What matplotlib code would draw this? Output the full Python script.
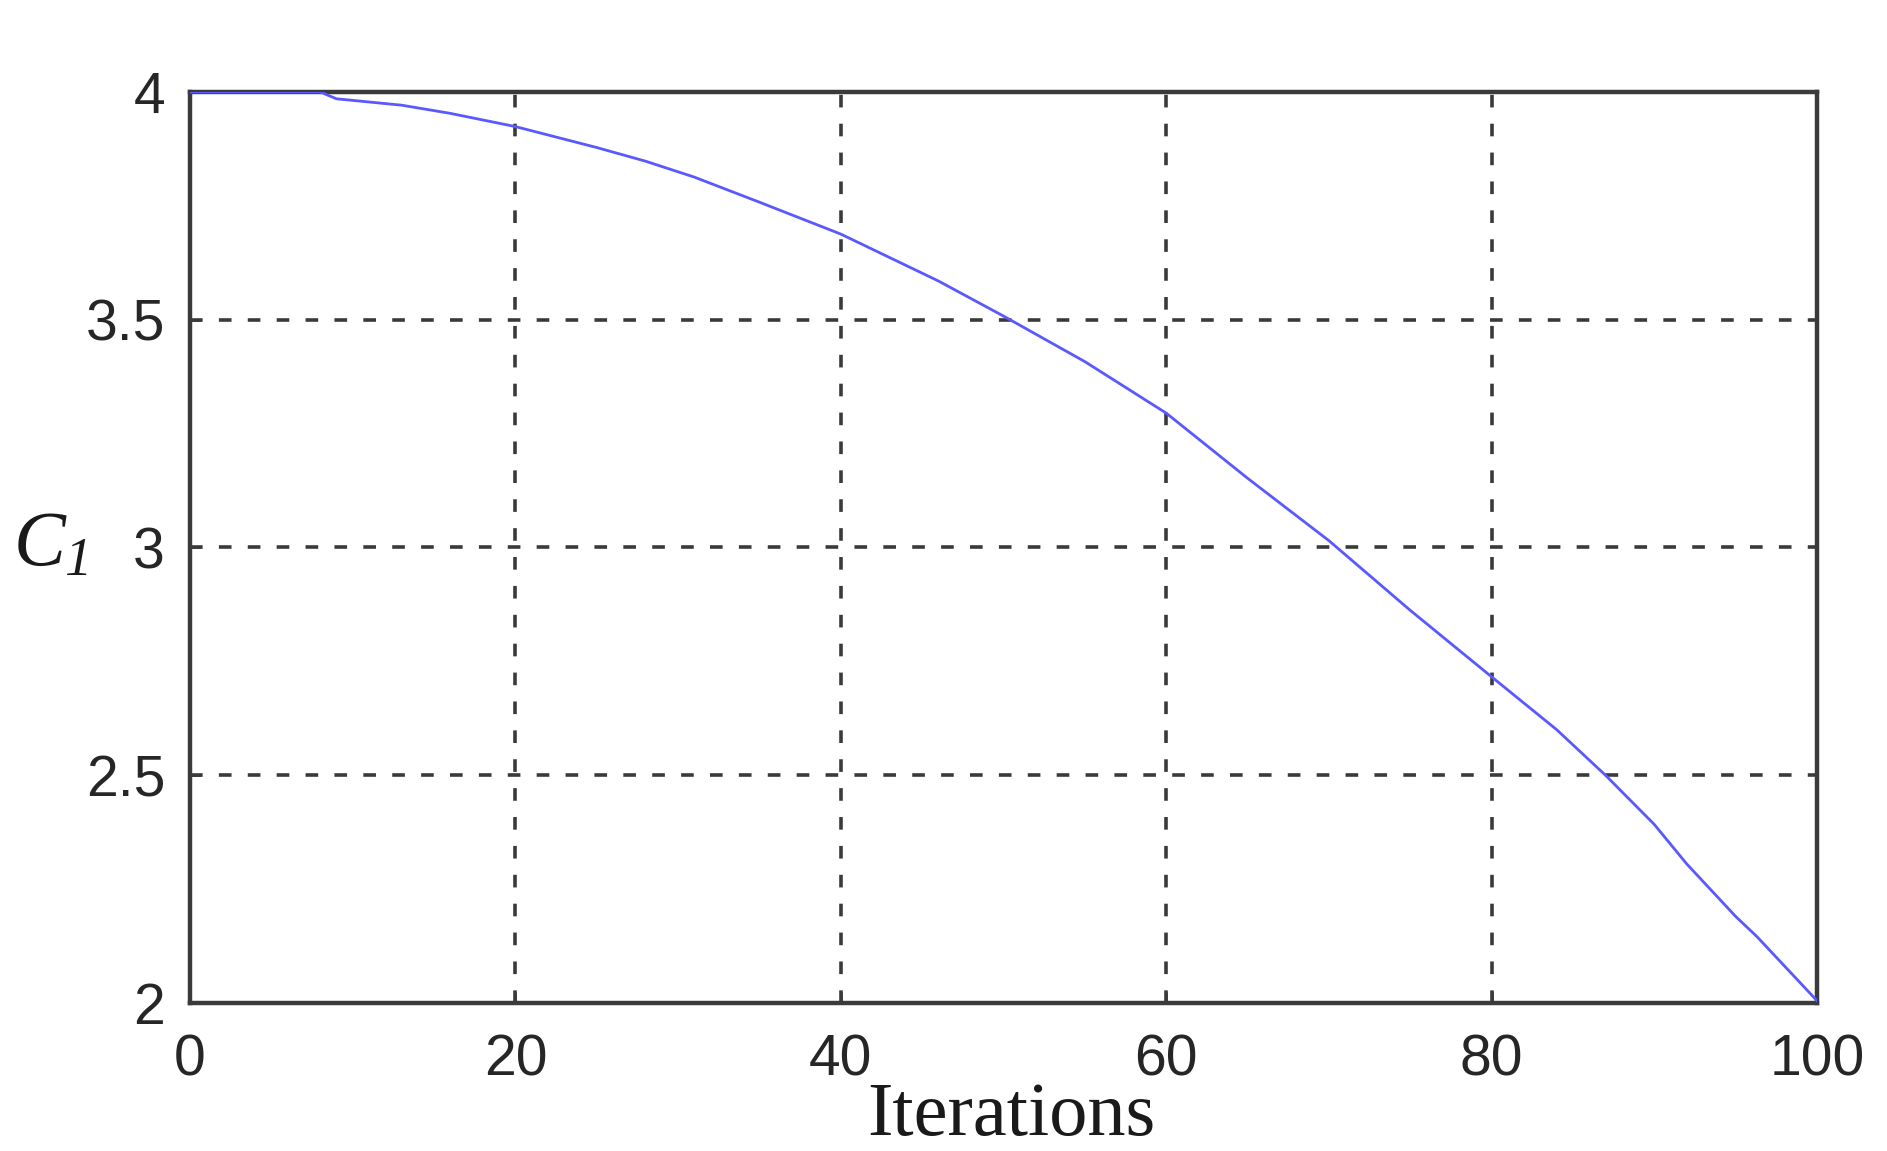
import matplotlib.pyplot as plt

# data
iterations = [0, 5, 8, 9, 13, 16, 20, 25, 28, 31, 35, 40, 46, 50, 55, 60, 65, 70,
              75, 80, 84, 87, 90, 92, 95, 96.3, 100]
c1 = [4.000, 4.000, 4.000, 3.985, 3.971, 3.953, 3.924, 3.878, 3.848, 3.813, 3.758,
      3.688, 3.585, 3.508, 3.408, 3.295, 3.152, 3.015, 2.862, 2.716, 2.600, 2.500,
      2.392, 2.305, 2.190, 2.146, 2.005]
xticks = [0, 20, 40, 60, 80, 100]
yticks = [2, 2.5, 3, 3.5, 4]
ytick_labels = ['2', '2.5', '3', '3.5', '4']

# italic serif for the C_1 label (digits too)
plt.rcParams['mathtext.fontset'] = 'custom'
plt.rcParams['mathtext.it'] = 'Liberation Serif:italic'
plt.rcParams['mathtext.rm'] = 'Liberation Serif:italic'

fig = plt.figure(figsize=(18.87, 11.51), dpi=100)
ax = fig.add_axes([0.1007, 0.1286, 0.8622, 0.7915])

ax.plot(iterations, c1, color=(0.35, 0.35, 1.0), linewidth=2.0, zorder=3)

ax.set_xlim(0, 100)
ax.set_ylim(2, 4)
ax.set_xticks(xticks)
ax.set_yticks(yticks)
ax.set_yticklabels(ytick_labels)

ax.grid(True, color='#3a3a3a', linewidth=2.6, linestyle=(0, (3.5, 4.5)))
ax.tick_params(direction='in', length=8, width=2, color='#3a3a3a',
               labelsize=41, labelcolor='#262626', pad=18)
for lab in ax.get_xticklabels() + ax.get_yticklabels():
    lab.set_family('Liberation Sans')
ax.tick_params(axis='x', pad=22)

for s in ax.spines.values():
    s.set_linewidth(3.2)
    s.set_color('#3a3a3a')

ax.set_xlabel('Iterations', fontsize=55, family='Liberation Serif', color='#1a1a1a')
ax.xaxis.set_label_coords(0.5046, -0.145)
ax.xaxis.label.set_va('baseline')

ax.set_ylabel(r'$C_{1}$', fontsize=56, rotation=0, color='#1a1a1a')
ax.yaxis.set_label_coords(-0.086, 0.505)
ax.yaxis.label.set_va('center')
ax.yaxis.label.set_ha('center')

fig.savefig('out.png', dpi=100)
